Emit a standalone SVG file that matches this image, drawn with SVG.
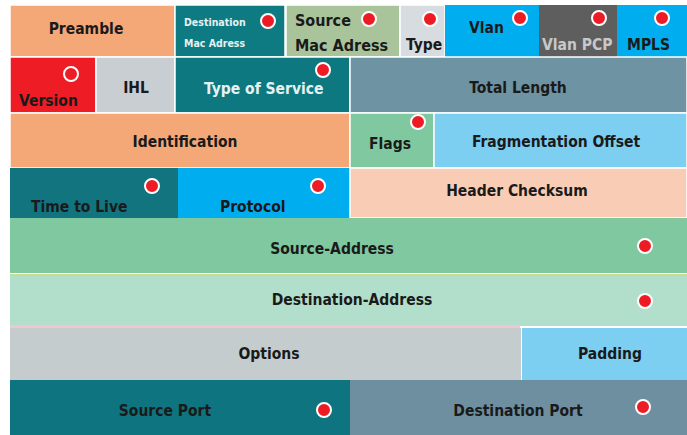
<svg xmlns="http://www.w3.org/2000/svg" xmlns:xlink="http://www.w3.org/1999/xlink" width="687" height="435" viewBox="0 0 687 435">
<style>
rect.c{stroke:#ffffff;stroke-width:1.5}
text{font-family:"DejaVu Sans Condensed","DejaVu Sans",sans-serif;font-weight:bold;font-size:15.5px;fill:#1a1a1a}
.m{text-anchor:middle}
.w{fill:#e6f2f2}
.g{fill:#c8c8c8}
.s{font-size:10.5px}
</style>
<defs>
<g id="blob"><circle r="7" fill="#ed1c24" stroke="#ffffff" stroke-width="2"/></g>
<g id="ring"><circle r="7" fill="none" stroke="#ffffff" stroke-width="2"/></g>
</defs>
<rect width="687" height="435" fill="#ffffff"/>
<g id="preamble"><rect class="c" x="10" y="5" width="165" height="52" fill="#f4a878"/><text class="m" x="86" y="34">Preamble</text></g>
<g id="dest-mac"><rect class="c" x="175" y="5" width="110" height="52" fill="#0e7a82"/><text class="w s" x="184" y="26">Destination</text><text class="w s" x="184" y="47">Mac Adress</text><use href="#blob" x="268" y="21"/></g>
<g id="src-mac"><rect class="c" x="286" y="5" width="114" height="52" fill="#a9c49a"/><text x="295" y="26" style="font-size:16px">Source</text><text x="295" y="51" style="font-size:16px">Mac Adress</text><use href="#blob" x="369" y="19"/></g>
<g id="type"><rect class="c" x="400" y="5" width="45" height="52" fill="#d6dce0"/><text x="406" y="50">Type</text><use href="#blob" x="430" y="19"/></g>
<g id="vlan"><rect x="445" y="5" width="94" height="52" fill="#00aeef"/><text x="469" y="33">Vlan</text><use href="#blob" x="520" y="18"/></g>
<g id="vlan-pcp"><rect x="539" y="5" width="78" height="52" fill="#5e5e5e"/><text class="g" x="542" y="50">Vlan PCP</text><use href="#blob" x="599" y="18"/></g>
<g id="mpls"><rect x="617" y="5" width="70" height="52" fill="#00aeef"/><text x="627" y="50">MPLS</text><use href="#blob" x="662" y="18"/></g>
<g id="version"><rect class="c" x="10" y="57" width="86" height="56" fill="#ee1c24"/><text x="19" y="106">Version</text><use href="#ring" x="71" y="74"/></g>
<g id="ihl"><rect class="c" x="96" y="57" width="79" height="56" fill="#c8ced1"/><text class="m" x="136" y="93">IHL</text></g>
<g id="tos"><rect class="c" x="175" y="57" width="175" height="56" fill="#0e7880"/><text class="w" x="204" y="94">Type of Service</text><use href="#blob" x="323" y="70"/></g>
<g id="total-length"><rect class="c" x="350" y="57" width="337" height="56" fill="#6e93a3"/><text class="m" x="518" y="93">Total Length</text></g>
<g id="identification"><rect class="c" x="10" y="113" width="340" height="55" fill="#f4a878"/><text class="m" x="185" y="147">Identification</text></g>
<g id="flags"><rect class="c" x="350" y="113" width="84" height="55" fill="#80c8a0"/><text x="369" y="149">Flags</text><use href="#blob" x="418" y="122"/></g>
<g id="frag-offset"><rect class="c" x="434" y="113" width="253" height="55" fill="#7dcff2"/><text class="m" x="556" y="147">Fragmentation Offset</text></g>
<g id="ttl"><rect x="10" y="168" width="168" height="50" fill="#11747f"/><text x="31" y="212">Time to Live</text><use href="#blob" x="152" y="186"/></g>
<g id="protocol"><rect x="178" y="168" width="172" height="50" fill="#00aeef"/><text x="220" y="212">Protocol</text><use href="#blob" x="318" y="186"/></g>
<g id="checksum"><rect class="c" x="350" y="168" width="337" height="50" fill="#f9cdb5"/><text class="m" x="517" y="196">Header Checksum</text></g>
<g id="src-addr"><rect x="10" y="218" width="677" height="55" fill="#80c8a0"/><text class="m" x="332" y="254">Source-Address</text><use href="#blob" x="645" y="246"/></g>
<rect x="10" y="274" width="677" height="2" fill="#c8dc8c"/>
<g id="dst-addr"><rect x="10" y="276" width="677" height="50" fill="#b2dfcb"/><text class="m" x="352" y="305">Destination-Address</text><use href="#blob" x="645" y="301"/></g>
<rect x="10" y="325" width="510" height="3" fill="#f4c4d4"/>
<g id="options"><rect x="10" y="328" width="511" height="52" fill="#c4ccce"/><text class="m" x="269" y="359">Options</text></g>
<g id="padding"><rect x="522" y="328" width="165" height="52" fill="#7dcff2"/><text class="m" x="610" y="359">Padding</text></g>
<g id="src-port"><rect x="10" y="380" width="340" height="55" fill="#0e747f"/><text class="m" x="165" y="416">Source Port</text><use href="#blob" x="324" y="410"/></g>
<g id="dst-port"><rect x="350" y="380" width="337" height="55" fill="#6e8fa0"/><text class="m" x="518" y="416">Destination Port</text><use href="#blob" x="643" y="407"/></g>
</svg>
